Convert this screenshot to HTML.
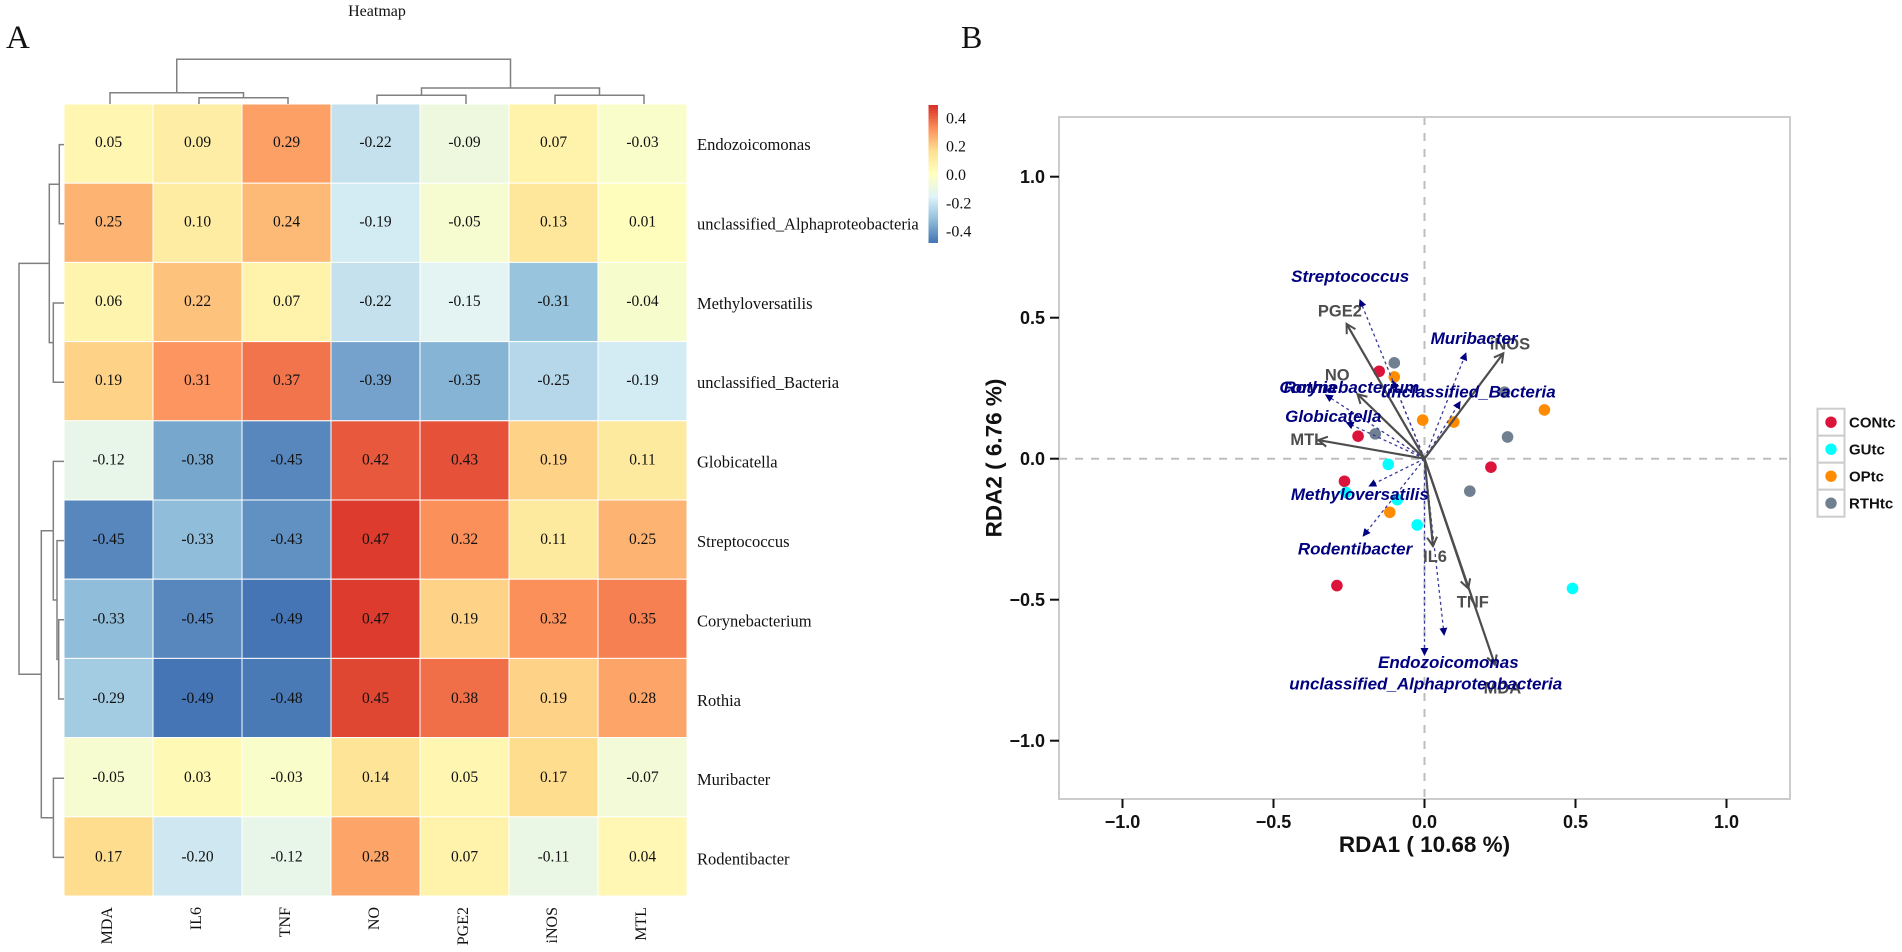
<!DOCTYPE html>
<html>
<head>
<meta charset="utf-8">
<title>Heatmap and RDA</title>
<style>
html,body{margin:0;padding:0;background:#fff;}
#root{display:block;width:1902px;height:952px;}
.serif{font-family:"Liberation Serif",serif;fill:#111;}
.sans{font-family:"Liberation Sans",sans-serif;font-weight:bold;}
</style>
</head>
<body>
<svg id="root" xmlns="http://www.w3.org/2000/svg" width="1902" height="952" viewBox="0 0 1902 952">
<defs>
<marker id="envHead" markerUnits="userSpaceOnUse" markerWidth="14" markerHeight="14" refX="10" refY="6" orient="auto"><path d="M1,1 L10,6 L1,11" fill="none" stroke="#4d4d4d" stroke-width="2"/></marker>
<marker id="spHead" markerUnits="userSpaceOnUse" markerWidth="10" markerHeight="10" refX="7" refY="4" orient="auto"><path d="M0,0 L8,4 L0,8 Z" fill="#000080"/></marker>
</defs>
<rect x="0" y="0" width="1902" height="952" fill="#ffffff"/>
<text class="serif" x="6" y="48" font-size="33">A</text>
<text class="serif" x="961" y="48" font-size="32">B</text>
<text class="serif" x="377" y="16" font-size="16" text-anchor="middle">Heatmap</text>
<g id="heat"></g>
<g id="rda"></g>
</svg>
<script>
/* ---------- Heatmap data ---------- */
const heatColumns = ['MDA','IL6','TNF','NO','PGE2','iNOS','MTL'];
const heatRows = ['Endozoicomonas','unclassified_Alphaproteobacteria','Methyloversatilis','unclassified_Bacteria','Globicatella','Streptococcus','Corynebacterium','Rothia','Muribacter','Rodentibacter'];
const heatValues = [
 [0.05,0.09,0.29,-0.22,-0.09,0.07,-0.03],
 [0.25,0.10,0.24,-0.19,-0.05,0.13,0.01],
 [0.06,0.22,0.07,-0.22,-0.15,-0.31,-0.04],
 [0.19,0.31,0.37,-0.39,-0.35,-0.25,-0.19],
 [-0.12,-0.38,-0.45,0.42,0.43,0.19,0.11],
 [-0.45,-0.33,-0.43,0.47,0.32,0.11,0.25],
 [-0.33,-0.45,-0.49,0.47,0.19,0.32,0.35],
 [-0.29,-0.49,-0.48,0.45,0.38,0.19,0.28],
 [-0.05,0.03,-0.03,0.14,0.05,0.17,-0.07],
 [0.17,-0.20,-0.12,0.28,0.07,-0.11,0.04]
];
const colorStops = ['#4575B4','#91BFDB','#E0F3F8','#FFFFBF','#FEE090','#FC8D59','#D73027'];
const colorDomain = [-0.49,0.49];
const colorbarTicks = [0.4,0.2,0.0,-0.2,-0.4];
/* dendrograms: [height, left, right], integers are leaves */
const columnTree = [44.7,[11.3,0,[6.3,1,2]],[16,[8.7,3,4],[8.7,5,6]]];
const rowTree = [45,[14.7,[4.7,0,1],[10.7,2,3]],[22.7,[10.7,4,[7,5,[5.3,6,7]]],[10.6,8,9]]];

/* ---------- RDA data ---------- */
const rdaTicks = [-1.0,-0.5,0.0,0.5,1.0];
const groups = ['CONtc','GUtc','OPtc','RTHtc'];
const groupColors = ['#DC143C','#00FFFF','#FF8C00','#708090'];
const conX = [-0.15,-0.22,0.22,-0.265,-0.29];
const conY = [0.31,0.08,-0.03,-0.08,-0.45];
const guX = [-0.12,-0.26,-0.09,-0.024,0.49];
const guY = [-0.02,-0.12,-0.145,-0.235,-0.46];
const opX = [-0.10,-0.006,0.097,0.397,-0.115];
const opY = [0.29,0.137,0.13,0.173,-0.19];
const rthX = [-0.10,-0.163,0.265,0.275,0.15];
const rthY = [0.34,0.088,0.236,0.077,-0.115];
const envNames = ['PGE2','iNOS','NO','MTL','IL6','TNF','MDA'];
const envX = [-0.258,0.261,-0.222,-0.352,0.028,0.145,0.233];
const envY = [0.478,0.374,0.229,0.066,-0.31,-0.46,-0.73];
const envLabelX = [-0.28,0.283,-0.289,-0.388,0.035,0.16,0.258];
const envLabelY = [0.525,0.409,0.298,0.07,-0.345,-0.507,-0.811];
const speciesNames = ['Endozoicomonas','unclassified_Alphaproteobacteria','Methyloversatilis','unclassified_Bacteria','Globicatella','Streptococcus','Corynebacterium','Rothia','Muribacter','Rodentibacter'];
const speciesX = [0,0.065,-0.183,0.118,-0.258,-0.214,-0.104,-0.327,0.137,-0.203];
const speciesY = [-0.696,-0.625,-0.097,0.202,0.128,0.563,0.275,0.226,0.374,-0.274];
const speciesLabelX = [0.079,0.004,-0.214,0.145,-0.302,-0.246,-0.249,-0.379,0.164,-0.23];
const speciesLabelY = [-0.721,-0.798,-0.125,0.238,0.152,0.648,0.255,0.255,0.428,-0.318];

const NS = 'http://www.w3.org/2000/svg';
function mk(parent, tag, attrs, text){
  const el = document.createElementNS(NS, tag);
  for (const k in attrs) el.setAttribute(k, attrs[k]);
  if (text !== undefined) el.textContent = text;
  parent.appendChild(el);
  return el;
}

/* ---------- Heatmap axes ---------- */
const hLeft = 64, hTop = 104, cellW = 89, cellH = 79.2, textPitch = 79.4;
function colX(i){ return hLeft + cellW * i; }
function rowY(i){ return hTop + cellH * i; }
function hexToRgb(h){ return [1,3,5].map(i => parseInt(h.substr(i,2),16)); }
function colorFor(v){
  const t = Math.max(0, Math.min(1, (v - colorDomain[0]) / (colorDomain[1] - colorDomain[0])));
  const p = t * (colorStops.length - 1);
  const i = Math.min(Math.floor(p), colorStops.length - 2);
  const f = p - i;
  const a = hexToRgb(colorStops[i]), b = hexToRgb(colorStops[i+1]);
  return 'rgb(' + a.map((c,k) => Math.round(c + (b[k]-c)*f)).join(',') + ')';
}

const heat = document.getElementById('heat');
heatValues.forEach((row, r) => {
  row.forEach((v, c) => {
    const rect = mk(heat, 'rect', {x:colX(c), y:rowY(r), width:cellW, height:cellH, fill:colorFor(v), stroke:'#ffffff', 'stroke-width':1});
    
    
    const label = mk(heat, 'text', {class:'serif', x:colX(c)+cellW/2, y:147+textPitch*r, 'font-size':15.5, 'text-anchor':'middle'}, v.toFixed(2));
    
    
  });
});
heatRows.forEach((name, r) => {
  const t = mk(heat, 'text', {class:'serif', x:697, y:150+textPitch*r, 'font-size':16.5}, name);
  
  
});
heatColumns.forEach((name, c) => {
  const cx = colX(c)+cellW/2+3.5;
  const t = mk(heat, 'text', {class:'serif', x:cx, y:907, 'font-size':16, 'text-anchor':'end', transform:'rotate(-90 '+cx+' 907)'}, name);
  
  
});

/* dendrograms */
function drawTree(node, leafPos, levelPos, horizontal){
  if (typeof node === 'number') return {pos:leafPos(node), level:levelPos(0)};
  const a = drawTree(node[1], leafPos, levelPos, horizontal);
  const b = drawTree(node[2], leafPos, levelPos, horizontal);
  const lv = levelPos(node[0]);
  const d = horizontal
    ? 'M'+a.pos+','+a.level+' L'+a.pos+','+lv+' L'+b.pos+','+lv+' L'+b.pos+','+b.level
    : 'M'+a.level+','+a.pos+' L'+lv+','+a.pos+' L'+lv+','+b.pos+' L'+b.level+','+b.pos;
  const p = mk(heat, 'path', {d:d, fill:'none', stroke:'#808080', 'stroke-width':1.5});
  
  
  return {pos:(a.pos+b.pos)/2, level:lv};
}
drawTree(columnTree, i => colX(i)+cellW/2+1.5, h => hTop - h, true);
drawTree(rowTree, i => rowY(i)+cellH/2+1, h => hLeft - h, false);

/* colourbar */
const cbX = 928.5, cbW = 9.5, cbTop = 105, cbBottom = 242.5;
function cbY(v){ return 175 - v * 141.75; }
for (let i = 0; i < 69; i++){
  const v = colorDomain[1] - (colorDomain[1]-colorDomain[0]) * (i+0.5)/69;
  const s = mk(heat, 'rect', {x:cbX, y:cbTop+(cbBottom-cbTop)*i/69, width:cbW, height:(cbBottom-cbTop)/69+0.5, fill:colorFor(v)});
  
  
}
colorbarTicks.forEach(v => {
  const t = mk(heat, 'text', {class:'serif', x:946, y:cbY(v)+5, 'font-size':16}, v.toFixed(1));
  
  
});

/* ---------- RDA axes ---------- */
const pL = 1059, pR = 1790, pT = 117, pB = 799;
function sx(v){ return 1424.5 + v * 302; }
function sy(v){ return 458.7 - v * 282; }
const rda = document.getElementById('rda');

const hz = mk(rda, 'line', {x1:pL, x2:pR, y1:sy(0), y2:sy(0), stroke:'#bdbdbd', 'stroke-width':2, 'stroke-dasharray':'8 8'});


const vt = mk(rda, 'line', {x1:sx(0), x2:sx(0), y1:pT, y2:pB, stroke:'#bdbdbd', 'stroke-width':2, 'stroke-dasharray':'8 8'});



const seriesX = [conX,guX,opX,rthX];
const seriesY = [conY,guY,opY,rthY];
seriesX.forEach((xs, g) => {
  xs.forEach((x, i) => {
    const pt = mk(rda, 'circle', {cx:sx(x), cy:sy(seriesY[g][i]), r:5.8, fill:groupColors[g]});
    
    
  });
});

speciesNames.forEach((n, i) => {
  const l = mk(rda, 'line', {x1:sx(0), y1:sy(0), x2:sx(speciesX[i]), y2:sy(speciesY[i]), stroke:'#3a3a9a', 'stroke-width':1.3, 'stroke-dasharray':'3 3', 'marker-end':'url(#spHead)'});
  
  
});
envNames.forEach((n, i) => {
  const l = mk(rda, 'line', {x1:sx(0), y1:sy(0), x2:sx(envX[i]), y2:sy(envY[i]), stroke:'#4d4d4d', 'stroke-width':2.2, 'marker-end':'url(#envHead)'});
  
  
});
envNames.forEach((n, i) => {
  const t = mk(rda, 'text', {class:'sans', x:sx(envLabelX[i]), y:sy(envLabelY[i])+6, 'font-size':16.5, fill:'#4d4d4d', 'text-anchor':'middle'}, n);
  
  
});
speciesNames.forEach((n, i) => {
  const t = mk(rda, 'text', {class:'sans', x:sx(speciesLabelX[i]), y:sy(speciesLabelY[i])+6, 'font-size':17, 'font-style':'italic', fill:'#000080', 'text-anchor':'middle'}, n);
  
  
});

const frame = mk(rda, 'rect', {x:pL, y:pT, width:pR-pL, height:pB-pT, fill:'none', stroke:'#cccccc', 'stroke-width':2});



function fmt(v){ return (v < 0 ? '\u2212' : '') + Math.abs(v).toFixed(1); }
rdaTicks.forEach(v => {
  const tx = mk(rda, 'line', {x1:sx(v), x2:sx(v), y1:pB, y2:pB+9, stroke:'#111', 'stroke-width':2});
  
  
  const lx = mk(rda, 'text', {class:'sans', x:sx(v), y:828, 'font-size':18, fill:'#111', 'text-anchor':'middle'}, fmt(v));
  
  
  const ty = mk(rda, 'line', {x1:pL-9, x2:pL, y1:sy(v), y2:sy(v), stroke:'#111', 'stroke-width':2});
  
  
  const ly = mk(rda, 'text', {class:'sans', x:1045, y:sy(v)+6.5, 'font-size':18, fill:'#111', 'text-anchor':'end'}, fmt(v));
  
  
});

const xTitle = mk(rda, 'text', {class:'sans', x:1424.5, y:852, 'font-size':22.5, fill:'#111', 'text-anchor':'middle'}, 'RDA1 ( 10.68 %)');


const yTitle = mk(rda, 'text', {class:'sans', x:1001.5, y:458, 'font-size':22.5, fill:'#111', 'text-anchor':'middle', transform:'rotate(-90 1001.5 458)'}, 'RDA2 ( 6.76 %)');



/* legend */
groups.forEach((g, i) => {
  const y0 = 408.7 + 27 * i;
  const box = mk(rda, 'rect', {x:1817.5, y:y0, width:27, height:27, fill:'#fff', stroke:'#cccccc', 'stroke-width':2});
  
  
  const dot = mk(rda, 'circle', {cx:1831, cy:y0+13.5, r:5.7, fill:groupColors[i]});
  
  
  const t = mk(rda, 'text', {class:'sans', x:1849, y:y0+19, 'font-size':15, fill:'#111'}, g);
  
  
});
</script>
</body>
</html>
